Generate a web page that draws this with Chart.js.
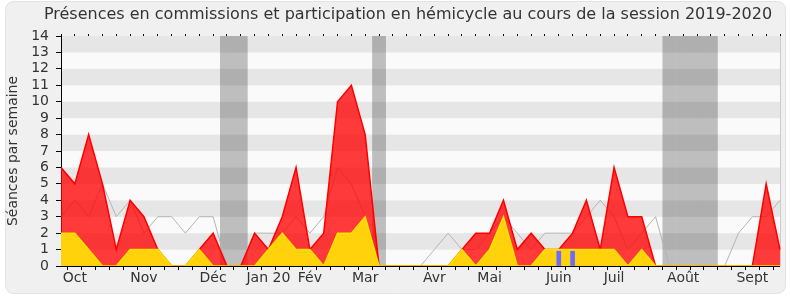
<!DOCTYPE html>
<html>
<head>
<meta charset="utf-8">
<script src="https://cdn.jsdelivr.net/npm/chart.js@4.4.0/dist/chart.umd.min.js"></script>
<style>
  body { margin: 0; background: #ffffff; }
  #wrap { width: 790px; height: 300px; }
</style>
</head>
<body>
<div id="wrap"><canvas id="presenceChart" width="790" height="300"></canvas></div>
<script>
// Weekly values, session 2019-2020 (53 weeks, from end of September)
const monthLabels = ["Oct", "Nov", "Déc", "Jan 20", "Fév", "Mar", "Avr", "Mai", "Juin", "Juil", "Août", "Sept"];
const monthWeeks = [1, 6, 11, 15, 18, 22, 27, 31, 36, 40, 45, 50];

const presences = [6, 5, 8, 5, 1, 4, 3, 1, 0, 0, 1, 2, 0, 0, 2, 1, 3, 6, 1, 2, 10, 11, 8, 0, 0, 0, 0,
  0, 0, 1, 2, 2, 4, 1, 2, 1, 1, 2, 4, 1, 6, 3, 3, 0, 0, 0, 0, 0, 0, 0, 0, 5, 1];
const participations = [2, 2, 1, 0, 0, 1, 1, 1, 0, 0, 1, 0, 0, 0, 0, 1, 2, 1, 1, 0, 2, 2, 3, 0, 0, 0, 0,
  0, 0, 1, 0, 1, 3, 0, 0, 1, 1, 1, 1, 1, 1, 0, 1, 0, 0, 0, 0, 0, 0, 0, 0, 0, 0];
const mediane = [3, 4, 3, 5, 3, 4, 2, 3, 3, 2, 3, 3, 0, 0, 2, 2, 2, 3, 2, 3, 6, 5, 3, 0, 0, 0, 0,
  1, 2, 1, 1, 2, 3, 2, 1, 2, 2, 2, 3, 4, 3, 1, 2, 3, 0, 0, 0, 0, 0, 2, 3, 3, 4];
const questions = [null, null, null, null, null, null, null, null, null, null, null, null, null, null,
  null, null, null, null, null, null, null, null, null, null, null, null, null, null, null, null, null,
  null, null, null, null, null, 0.9, 0.9, null, null, null, null, null, null, null, null, null, null,
  null, null, null, null, null];
const vacances = [12, 13, 23, 44, 45, 46, 47];

const titleText = "Présences en commissions et participation en hémicycle au cours de la session 2019-2020";

const weekLabels = presences.map((v, i) => {
  const k = monthWeeks.indexOf(i);
  return k >= 0 ? monthLabels[k] : "";
});

const fontName = "'DejaVu Sans', sans-serif";

const backgroundPlugin = {
  id: "background",
  beforeDraw(chart) {
    const ctx = chart.ctx;
    const area = chart.chartArea;
    const y = chart.scales.y;
    const x = chart.scales.x;
    ctx.save();
    // outer box
    ctx.fillStyle = "#ffffff";
    ctx.fillRect(0, 0, chart.width, chart.height);
    ctx.beginPath();
    ctx.roundRect(5.5, 1.5, 780, 292, 8);
    ctx.fillStyle = "#f0f0f0";
    ctx.fill();
    ctx.strokeStyle = "#e3e3e3";
    ctx.lineWidth = 1;
    ctx.stroke();
    // horizontal stripes
    for (let v = 0; v < 14; v++) {
      const top = y.getPixelForValue(v + 1);
      const bottom = y.getPixelForValue(v);
      ctx.fillStyle = v % 2 === 0 ? "#fafafa" : "#e6e6e6";
      ctx.fillRect(area.left, top, area.right - area.left, bottom - top);
    }
    // holidays
    const step = x.getPixelForValue(1) - x.getPixelForValue(0);
    ctx.fillStyle = "rgba(0, 0, 0, 0.24)";
    vacances.forEach((w) => {
      const cx = x.getPixelForValue(w);
      ctx.fillRect(cx - step / 2, area.top, step, area.bottom - area.top);
    });
    ctx.restore();
  },
  afterDraw(chart) {
    const ctx = chart.ctx;
    ctx.save();
    ctx.font = "16px " + fontName;
    ctx.fillStyle = "#333333";
    ctx.textAlign = "center";
    ctx.textBaseline = "middle";
    ctx.fillText(titleText, 408, 15);
    ctx.restore();
  },
};

const ctx = document.getElementById("presenceChart").getContext("2d");
new Chart(ctx, {
  data: {
    labels: weekLabels,
    datasets: [
      {
        type: "bar",
        label: "Questions orales",
        data: questions,
        backgroundColor: "#6b6bff",
        barThickness: 4,
        order: 0,
      },
      {
        type: "line",
        label: "Participation en hémicycle",
        data: participations,
        fill: "origin",
        backgroundColor: "#ffd20c",
        borderColor: "#ffe000",
        borderWidth: 1.5,
        pointRadius: 0,
        tension: 0,
        order: 1,
      },
      {
        type: "line",
        label: "Présences en commissions",
        data: presences,
        fill: "origin",
        backgroundColor: "rgba(255, 0, 0, 0.77)",
        borderColor: "#ff0000",
        borderWidth: 1.5,
        pointRadius: 0,
        tension: 0,
        order: 2,
      },
      {
        type: "line",
        label: "Médiane",
        data: mediane,
        fill: false,
        borderColor: "#b4b4b4",
        borderWidth: 1,
        pointRadius: 0,
        tension: 0,
        order: 3,
      },
    ],
  },
  options: {
    responsive: false,
    animation: false,
    layout: { padding: { top: 34, left: 0, right: 0, bottom: 0 } },
    plugins: {
      legend: { display: false },
      tooltip: { enabled: false },
      title: { display: false },
    },
    scales: {
      x: {
        type: "category",
        offset: false,
        grid: { drawOnChartArea: false, drawTicks: true, tickLength: 4, color: "#000000" },
        border: { display: true, color: "#000000" },
        ticks: {
          autoSkip: false,
          maxRotation: 0,
          padding: 0,
          color: "#333333",
          font: { family: fontName, size: 14 },
        },
        afterFit: (s) => { s.height = 34; },
      },
      x2: {
        type: "category",
        position: "top",
        labels: weekLabels,
        offset: false,
        grid: { drawOnChartArea: false, drawTicks: true, tickLength: 2, color: "#000000" },
        border: { display: false },
        ticks: { display: false },
        afterFit: (s) => { s.height = 2; },
      },
      y: {
        min: 0,
        max: 14,
        ticks: {
          stepSize: 1,
          autoSkip: false,
          padding: 7,
          color: "#333333",
          font: { family: fontName, size: 14 },
        },
        grid: { drawOnChartArea: false, drawTicks: true, tickLength: 5, color: "#000000" },
        border: { display: true, color: "#000000" },
        title: {
          display: true,
          text: "Séances par semaine",
          color: "#333333",
          font: { family: fontName, size: 14 },
          padding: { top: 5, bottom: 0 },
        },
        afterFit: (s) => { s.width = 61; },
      },
      y2: {
        position: "right",
        min: 0,
        max: 14,
        ticks: { display: false },
        grid: { display: false },
        border: { display: true, color: "#cccccc" },
        afterFit: (s) => { s.width = 10; },
      },
    },
  },
  plugins: [backgroundPlugin],
});
</script>
</body>
</html>
